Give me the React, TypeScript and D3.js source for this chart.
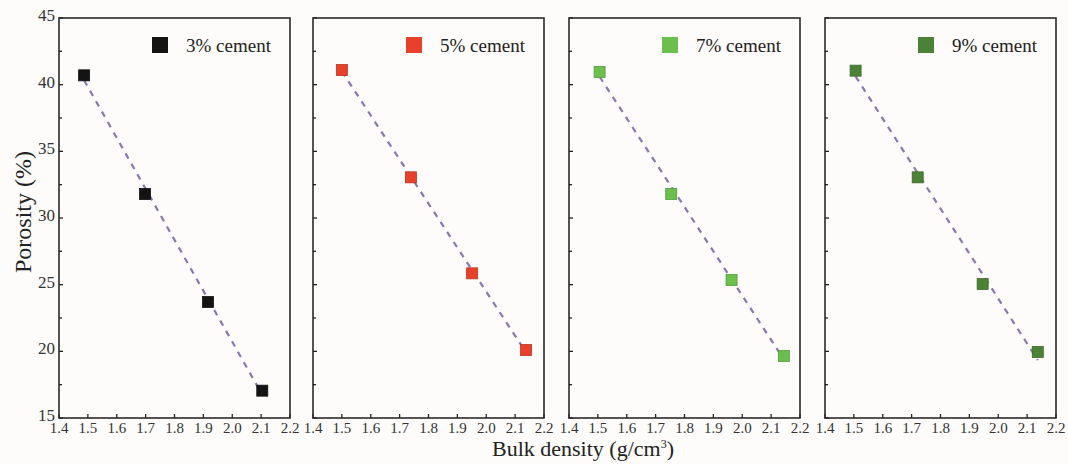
import * as React from 'react'
import * as d3 from 'd3'

// cement contents, one panel each
const labels = ['3% cement', '5% cement', '7% cement', '9% cement']
const colors = ['#141414', '#e8412b', '#6bbf4c', '#4c8236']

// bulk density (g/cm3) per panel
const density3 = [1.487, 1.698, 1.916, 2.104]
const density5 = [1.5, 1.739, 1.951, 2.138]
const density7 = [1.506, 1.754, 1.963, 2.144]
const density9 = [1.506, 1.721, 1.946, 2.137]

// porosity (%) per panel
const porosity3 = [40.7, 31.8, 23.7, 17.05]
const porosity5 = [41.1, 33.05, 25.85, 20.1]
const porosity7 = [40.95, 31.8, 25.35, 19.65]
const porosity9 = [41.05, 33.05, 25.05, 19.95]

const xTicks = [1.4, 1.5, 1.6, 1.7, 1.8, 1.9, 2.0, 2.1, 2.2]
const yTicks = [15, 20, 25, 30, 35, 40, 45]
const yMinor = [17.5, 22.5, 27.5, 32.5, 37.5, 42.5]

const densities = [density3, density5, density7, density9]
const porosities = [porosity3, porosity5, porosity7, porosity9]

const W = 1068
const H = 464
const top = 18
const bottom = 418
const panelLeft = [59, 313, 569, 825]
const panelW = 231
const font = 'Liberation Serif, DejaVu Serif, serif'

// straight fit line drawn over each panel's points
const fitLine = (xs, ys) => {
    const mx = d3.mean(xs)
    const my = d3.mean(ys)
    let num = 0, den = 0
    xs.forEach((x, i) => { num += (x - mx) * (ys[i] - my); den += (x - mx) * (x - mx) })
    const b = num / den
    const a = my - b * mx
    const x0 = d3.min(xs), x1 = d3.max(xs)
    return [[x0, a + b * x0], [x1, a + b * x1]]
}

const Panel = ({ index }) => {
    const left = panelLeft[index]
    const x = d3.scaleLinear().domain([1.4, 2.2]).range([left, left + panelW])
    const y = d3.scaleLinear().domain([15, 45]).range([bottom, top])
    const xs = densities[index]
    const ys = porosities[index]
    const color = colors[index]
    const line = d3.line().x(d => x(d[0])).y(d => y(d[1]))
    const fit = fitLine(xs, ys)
    const s = 11

    return (
        <g>
            {xTicks.map(t => (
                <g key={'x' + t}>
                    <line x1={x(t)} x2={x(t)} y1={bottom} y2={bottom - 4} stroke="#222" strokeWidth={1.3} />
                    <text x={x(t)} y={432.5} textAnchor="middle" fontSize={15} fontFamily={font} fill="#333">{t.toFixed(1)}</text>
                </g>
            ))}
            {yTicks.map(t => (
                <g key={'y' + t}>
                    <line x1={left} x2={left + 4} y1={y(t)} y2={y(t)} stroke="#222" strokeWidth={1.3} />
                    {index === 0 && (
                        <text x={left - 4} y={y(t) + 3} textAnchor="end" fontSize={17} fontFamily={font} fill="#333">{t}</text>
                    )}
                </g>
            ))}
            {yMinor.map(t => (
                <line key={'m' + t} x1={left} x2={left + 3} y1={y(t)} y2={y(t)} stroke="#222" strokeWidth={1.3} />
            ))}
            <path d={line(fit)} fill="none" stroke="#8b76b3" strokeWidth={2.2} strokeDasharray="6,6" />
            {xs.map((v, i) => (
                <rect key={i} x={x(v) - s / 2} y={y(ys[i]) - s / 2} width={s} height={s} fill={color} stroke={d3.color(color).darker(0.6)} strokeWidth={0.8} />
            ))}
            <rect x={left + 93} y={37} width={16} height={16} fill={color} />
            <text x={left + 127} y={52} fontSize={19} fontFamily={font} fill="#222">{labels[index]}</text>
            <rect x={left} y={top} width={panelW} height={bottom - top} fill="none" stroke="#2a2a2a" strokeWidth={1.6} />
        </g>
    )
}

const App = () => {
    return (
        <svg width={W} height={H} style={{ position: 'absolute', left: 0, top: 0 }}>
            <rect x={0} y={0} width={W} height={H} fill="#fdfcfa" />
            {labels.map((l, i) => <Panel key={l} index={i} />)}
            <text transform="translate(31, 212) rotate(-90)" textAnchor="middle" fontSize={24} fontFamily={font} fill="#222">Porosity (%)</text>
            <text x={583} y={456} textAnchor="middle" fontSize={22} fontFamily={font} fill="#222">
                Bulk density (g/cm<tspan dy={-8} fontSize={12}>3</tspan><tspan dy={8}>)</tspan>
            </text>
        </svg>
    )
}

export default App
